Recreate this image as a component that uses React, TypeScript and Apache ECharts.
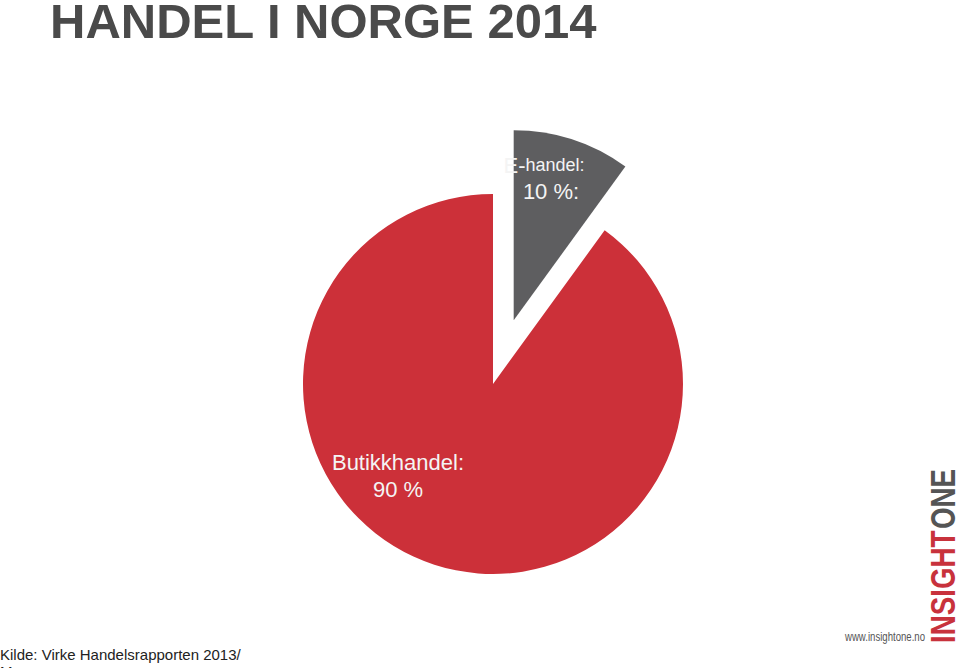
import React, { useEffect, useRef } from "react";
import * as echarts from "echarts";

const titleText = "HANDEL I NORGE 2014";
const categories = ["E-handel", "Butikkhandel"];
const shares = [10, 90];
const sliceColors = ["#5e5e60", "#cc3039"];
const sourceLines = ["Kilde: Virke Handelsrapporten 2013/", "Menon"];

export default function App() {
  const ref = useRef<HTMLDivElement>(null);
  useEffect(() => {
    if (!ref.current) return;
    const chart = echarts.init(ref.current, null, { renderer: "svg" });
    const font = "'Liberation Sans', Arial, sans-serif";
    chart.setOption({
      animation: false,
      backgroundColor: "#ffffff",
      graphic: [
        {
          type: "text",
          x: 50,
          y: 21,
          style: {
            text: titleText,
            font: `bold 49px ${font}`,
            lineHeight: 40,
            fill: "#4a4a4a",
            textAlign: "left",
            textVerticalAlign: "middle",
          },
        },
        {
          type: "text",
          x: 0,
          y: 646,
          style: {
            text: sourceLines.join("\n"),
            font: `15px ${font}`,
            lineHeight: 17,
            fill: "#222222",
            textAlign: "left",
            textVerticalAlign: "top",
          },
        },
        {
          type: "text",
          x: 925,
          y: 637,
          scaleX: 0.8,
          style: {
            text: "www.insightone.no",
            font: `12px ${font}`,
            fill: "#555555",
            textAlign: "right",
            textVerticalAlign: "middle",
          },
        },
        {
          type: "text",
          x: 943,
          y: 643,
          rotation: Math.PI / 2,
          scaleX: 0.77,
          style: {
            text: "INSIGHT",
            font: `bold 36px ${font}`,
            fill: "#c8323c",
            textAlign: "left",
            textVerticalAlign: "middle",
          },
        },
        {
          type: "text",
          x: 943,
          y: 529,
          rotation: Math.PI / 2,
          scaleX: 0.77,
          style: {
            text: "ONE",
            font: `bold 36px ${font}`,
            fill: "#555555",
            textAlign: "left",
            textVerticalAlign: "middle",
          },
        },
        {
          type: "text",
          x: 544,
          y: 165,
          z: 100,
          style: {
            text: "{big|E-}{small|handel:}",
            fill: "#f4f4f4",
            textAlign: "center",
            textVerticalAlign: "middle",
            rich: {
              big: { fontSize: 22, fontFamily: font, fill: "#f4f4f4" },
              small: { fontSize: 18, fontFamily: font, fill: "#f4f4f4" },
            },
          },
        },
        {
          type: "text",
          x: 551,
          y: 191,
          z: 100,
          style: {
            text: `${shares[0]} %:`,
            font: `22px ${font}`,
            fill: "#f4f4f4",
            textAlign: "center",
            textVerticalAlign: "middle",
          },
        },
      ],
      series: [
        {
          type: "pie",
          center: [493, 384],
          radius: 190,
          startAngle: 90,
          clockwise: true,
          selectedMode: "single",
          selectedOffset: 67,
          avoidLabelOverlap: false,
          emphasis: { disabled: true },
          labelLine: { show: false },
          label: {
            show: true,
            position: "inside",
            color: "#f4f4f4",
            fontFamily: font,
            fontSize: 22,
            lineHeight: 27,
            align: "center",
          },
          labelLayout: (p: any) =>
            p.dataIndex === 1
              ? { x: 398, y: 476, align: "center", verticalAlign: "middle" }
              : {},
          data: [
            {
              value: shares[0],
              name: categories[0],
              selected: true,
              itemStyle: { color: sliceColors[0] },
              label: { show: false },
            },
            {
              value: shares[1],
              name: categories[1],
              itemStyle: { color: sliceColors[1] },
              label: { formatter: `${categories[1]}:\n${shares[1]} %` },
            },
          ],
        },
      ],
    });
    return () => chart.dispose();
  }, []);
  return (
    <div
      ref={ref}
      style={{ position: "fixed", left: 0, top: 0, width: 960, height: 668 }}
    />
  );
}
